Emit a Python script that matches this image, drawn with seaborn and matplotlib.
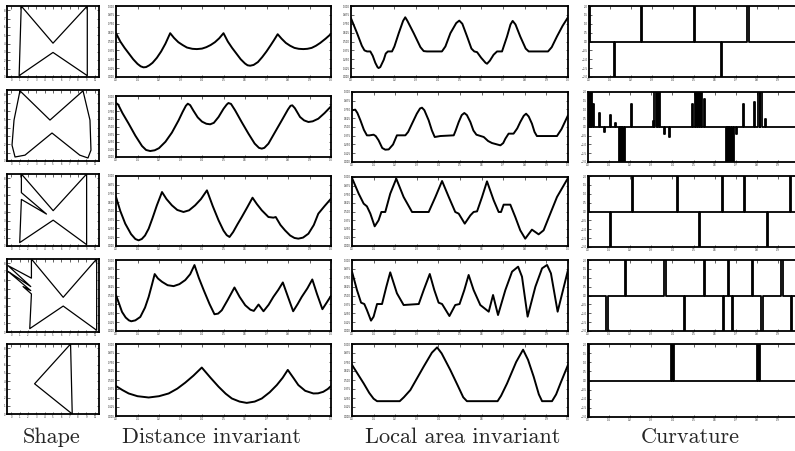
import numpy as np
import matplotlib
matplotlib.use("Agg")
import matplotlib.pyplot as plt
import seaborn as sns

# --- shapes (column 1) ---
shape1_x = [1.2, 5.0, 9.1, 9.1, 5.0, 0.95, 1.2]
shape1_y = [8.5, 4.05, 8.5, 0.16, 2.94, 0.16, 8.5]
shape2_x = [1.05, 4.64, 8.59, 9.42, 9.54, 9.18, 8.2, 4.88, 1.65, 0.46, 0.1, 0.34, 1.05]
shape2_y = [8.4, 4.9, 8.4, 4.9, 1.3, 0.36, 0.7, 3.35, 0.7, 0.48, 1.9, 4.9, 8.4]
shape3_x = [1.22, 1.22, 4.22, 1.22, 1.02, 5.02, 9.02, 9.02, 5.02, 1.22]
shape3_y = [8.5, 6.3, 3.77, 5.5, 0.4, 3.05, 0.16, 8.5, 4.17, 8.5]
shape4_x = [2.42, 2.42, -0.38, 2.34, -0.38, 2.34, 1.42, 2.42, 2.22, 6.22, 10.22, 10.22, 6.22, 2.42]
shape4_y = [8.5, 6.27, 7.73, 5.29, 7.06, 4.82, 5.29, 4.43, 0.39, 3.02, 0.2, 8.5, 4.04, 8.5]
shape5_x = [7.1, 2.8, 7.3, 7.1]
shape5_y = [8.5, 3.67, 0.0, 8.5]

# --- distance invariant (column 2) ---
dist1_x = [0, 0.02, 0.04, 0.06, 0.08, 0.1, 0.115, 0.128, 0.14, 0.155, 0.17, 0.19, 0.21, 0.23, 0.252,
           0.27, 0.29, 0.31, 0.33, 0.355, 0.376, 0.4, 0.42, 0.44, 0.46, 0.48, 0.5,
           0.52, 0.54, 0.56, 0.58, 0.6, 0.612, 0.624, 0.64, 0.66, 0.68, 0.7, 0.72, 0.735, 0.752,
           0.77, 0.79, 0.81, 0.83, 0.85, 0.871, 0.89, 0.91, 0.93, 0.95, 0.975, 1.0]
dist1_y = [0.617, 0.5, 0.41, 0.33, 0.25, 0.185, 0.15, 0.136, 0.14, 0.165, 0.2, 0.27, 0.36, 0.47, 0.617,
           0.55, 0.49, 0.45, 0.415, 0.397, 0.393, 0.4, 0.42, 0.45, 0.49, 0.545, 0.617,
           0.5, 0.41, 0.33, 0.25, 0.19, 0.165, 0.159, 0.17, 0.21, 0.28, 0.36, 0.45, 0.52, 0.603,
           0.54, 0.48, 0.44, 0.41, 0.397, 0.393, 0.397, 0.41, 0.44, 0.48, 0.54, 0.607]
dist2_x = [0, 0.01, 0.03, 0.059, 0.09, 0.121, 0.14, 0.159, 0.18, 0.2, 0.23, 0.26, 0.291, 0.31, 0.325, 0.334,
           0.345, 0.36, 0.38, 0.4, 0.42, 0.438, 0.455, 0.477, 0.5, 0.515, 0.523, 0.535, 0.554, 0.585, 0.616,
           0.645, 0.665, 0.678, 0.69, 0.709, 0.74, 0.771, 0.8, 0.812, 0.82, 0.832, 0.856, 0.875, 0.895, 0.915,
           0.941, 0.97, 1.0]
dist2_y = [0.885, 0.86, 0.72, 0.546, 0.35, 0.18, 0.115, 0.098, 0.11, 0.145, 0.25, 0.4, 0.6, 0.74, 0.84, 0.874,
           0.85, 0.76, 0.65, 0.58, 0.545, 0.536, 0.56, 0.656, 0.79, 0.86, 0.885, 0.87, 0.765, 0.57, 0.383,
           0.22, 0.15, 0.137, 0.15, 0.219, 0.41, 0.6, 0.78, 0.84, 0.847, 0.8, 0.656, 0.6, 0.574, 0.585,
           0.628, 0.72, 0.83]
dist3_x = [0, 0.02, 0.043, 0.07, 0.09, 0.105, 0.12, 0.135, 0.152, 0.17, 0.19, 0.214, 0.235, 0.26, 0.285, 0.314,
           0.34, 0.368, 0.395, 0.423, 0.45, 0.477, 0.5, 0.515, 0.528, 0.545, 0.565, 0.585, 0.61, 0.635, 0.655,
           0.678, 0.709, 0.732, 0.743, 0.765, 0.786, 0.81, 0.83, 0.848, 0.87, 0.895, 0.92, 0.941, 0.97, 1.0]
dist3_y = [0.7, 0.5, 0.319, 0.17, 0.1, 0.081, 0.1, 0.15, 0.248, 0.4, 0.58, 0.771, 0.67, 0.581, 0.515, 0.486,
           0.51, 0.581, 0.67, 0.795, 0.57, 0.367, 0.22, 0.155, 0.129, 0.2, 0.31, 0.414, 0.55, 0.69, 0.6,
           0.51, 0.414, 0.405, 0.414, 0.3, 0.224, 0.15, 0.115, 0.105, 0.12, 0.176, 0.3, 0.462, 0.57, 0.676]
dist4_x = [0, 0.015, 0.028, 0.045, 0.06, 0.071, 0.09, 0.113, 0.135, 0.152, 0.167, 0.18, 0.195, 0.214, 0.24,
           0.268, 0.295, 0.322, 0.345, 0.365, 0.385, 0.408, 0.435, 0.458, 0.475, 0.492, 0.52, 0.551, 0.575,
           0.601, 0.625, 0.641, 0.663, 0.686, 0.71, 0.732, 0.755, 0.776, 0.8, 0.824, 0.845, 0.864, 0.89, 0.913,
           0.935, 0.96, 0.98, 1.0]
dist4_y = [0.505, 0.38, 0.269, 0.19, 0.15, 0.137, 0.15, 0.198, 0.33, 0.481, 0.65, 0.802, 0.74, 0.693, 0.645,
           0.632, 0.66, 0.717, 0.8, 0.929, 0.75, 0.575, 0.38, 0.236, 0.245, 0.292, 0.44, 0.613, 0.48,
           0.363, 0.3, 0.283, 0.373, 0.278, 0.37, 0.481, 0.58, 0.684, 0.48, 0.278, 0.38, 0.481, 0.6, 0.726,
           0.52, 0.307, 0.4, 0.495]
dist5_x = [0, 0.03, 0.059, 0.1, 0.152, 0.2, 0.245, 0.285, 0.322, 0.36, 0.399, 0.44, 0.477, 0.51, 0.539, 0.575,
           0.608, 0.645, 0.678, 0.715, 0.748, 0.775, 0.799, 0.825, 0.848, 0.88, 0.918, 0.94, 0.964, 0.985, 1.0]
dist5_y = [0.416, 0.36, 0.313, 0.275, 0.257, 0.275, 0.313, 0.38, 0.463, 0.56, 0.673, 0.53, 0.407, 0.31, 0.243,
           0.2, 0.182, 0.2, 0.243, 0.33, 0.43, 0.53, 0.64, 0.53, 0.43, 0.35, 0.313, 0.315, 0.336, 0.375, 0.416]

# --- local area invariant (column 3) ---
area1_x = [0, 0.028, 0.05, 0.062, 0.074, 0.089, 0.1, 0.112, 0.122, 0.127, 0.135, 0.151, 0.16, 0.17, 0.189, 0.2,
           0.22, 0.24, 0.25, 0.26, 0.289, 0.32, 0.335, 0.35, 0.419, 0.435, 0.458, 0.485, 0.499, 0.513, 0.535,
           0.555, 0.568, 0.581, 0.6, 0.62, 0.627, 0.64, 0.657, 0.673, 0.696, 0.719, 0.735, 0.745, 0.758, 0.78,
           0.805, 0.819, 0.908, 0.925, 0.949, 0.975, 1.0]
area1_y = [0.827, 0.617, 0.44, 0.375, 0.36, 0.36, 0.3, 0.2, 0.14, 0.126, 0.14, 0.243, 0.33, 0.36, 0.36, 0.43,
           0.617, 0.79, 0.841, 0.79, 0.617, 0.42, 0.365, 0.36, 0.36, 0.43, 0.617, 0.76, 0.794, 0.75, 0.57,
           0.4, 0.36, 0.35, 0.27, 0.2, 0.187, 0.23, 0.313, 0.36, 0.36, 0.57, 0.74, 0.79, 0.74, 0.57,
           0.4, 0.36, 0.36, 0.42, 0.57, 0.72, 0.841]
area2_x = [0, 0.015, 0.025, 0.039, 0.055, 0.069, 0.08, 0.1, 0.11, 0.123, 0.14, 0.154, 0.17, 0.19, 0.208, 0.247,
           0.26, 0.278, 0.3, 0.315, 0.324, 0.335, 0.355, 0.37, 0.383, 0.409, 0.471, 0.48, 0.494, 0.508, 0.52,
           0.532, 0.548, 0.562, 0.576, 0.61, 0.63, 0.648, 0.687, 0.7, 0.71, 0.725, 0.748, 0.765, 0.779, 0.795,
           0.806, 0.818, 0.833, 0.845, 0.856, 0.949, 0.97, 1.0]
area2_y = [0.738, 0.748, 0.7, 0.595, 0.46, 0.381, 0.38, 0.39, 0.37, 0.31, 0.2, 0.176, 0.18, 0.25, 0.381, 0.381,
           0.43, 0.548, 0.69, 0.765, 0.776, 0.74, 0.595, 0.45, 0.357, 0.371, 0.381, 0.45, 0.571, 0.67, 0.7,
           0.67, 0.571, 0.45, 0.39, 0.357, 0.3, 0.271, 0.238, 0.27, 0.333, 0.405, 0.405, 0.48, 0.571, 0.66,
           0.69, 0.65, 0.548, 0.43, 0.371, 0.371, 0.47, 0.667]
area3_x = [0, 0.031, 0.054, 0.069, 0.085, 0.105, 0.123, 0.136, 0.154, 0.177, 0.205, 0.239, 0.278, 0.355, 0.386,
           0.417, 0.448, 0.478, 0.494, 0.522, 0.548, 0.563, 0.579, 0.602, 0.625, 0.656, 0.679, 0.69, 0.702, 0.733,
           0.756, 0.779, 0.802, 0.833, 0.864, 0.887, 0.918, 0.949, 1.0]
area3_y = [0.986, 0.758, 0.614, 0.575, 0.469, 0.285, 0.372, 0.493, 0.493, 0.758, 0.976, 0.71, 0.493, 0.493, 0.71,
           0.942, 0.71, 0.493, 0.469, 0.324, 0.444, 0.493, 0.502, 0.71, 0.937, 0.662, 0.493, 0.493, 0.599, 0.599,
           0.42, 0.227, 0.106, 0.237, 0.169, 0.227, 0.469, 0.71, 0.986]
area4_x = [0, 0.023, 0.042, 0.057, 0.069, 0.088, 0.1, 0.116, 0.139, 0.159, 0.177, 0.208, 0.239, 0.309, 0.332, 0.36,
           0.381, 0.401, 0.417, 0.451, 0.478, 0.498, 0.52, 0.54, 0.563, 0.594, 0.633, 0.653, 0.676, 0.71, 0.741,
           0.769, 0.787, 0.813, 0.849, 0.88, 0.903, 0.921, 0.952, 0.977, 1.0]
area4_y = [0.836, 0.577, 0.399, 0.38, 0.296, 0.146, 0.202, 0.38, 0.38, 0.624, 0.826, 0.531, 0.366, 0.38, 0.577,
           0.803, 0.577, 0.399, 0.38, 0.211, 0.366, 0.38, 0.577, 0.789, 0.577, 0.366, 0.272, 0.507, 0.225, 0.577,
           0.836, 0.906, 0.765, 0.202, 0.624, 0.883, 0.93, 0.812, 0.272, 0.577, 0.859]
area5_x = [0, 0.054, 0.08, 0.1, 0.116, 0.221, 0.24, 0.27, 0.332, 0.37, 0.394, 0.415, 0.455, 0.49, 0.515, 0.532,
           0.674, 0.69, 0.718, 0.76, 0.792, 0.815, 0.841, 0.865, 0.88, 0.926, 0.945, 0.965, 1.0]
area5_y = [0.71, 0.453, 0.32, 0.24, 0.206, 0.206, 0.26, 0.36, 0.687, 0.88, 0.953, 0.87, 0.64, 0.42, 0.26, 0.206,
           0.206, 0.28, 0.453, 0.75, 0.921, 0.78, 0.547, 0.3, 0.206, 0.206, 0.3, 0.453, 0.71]

# --- curvature (column 4): spike positions and heights ---
curv1_pos = [0.0, 0.122, 0.249, 0.503, 0.63, 0.757]
curv1_val = [2.5, -2.5, 2.5, 2.5, -2.5, 2.5]
curv2_pos = [0.0, 0.01, 0.016, 0.025, 0.053, 0.078, 0.105, 0.132, 0.148, 0.156, 0.165, 0.173, 0.206, 0.31,
             0.318, 0.328, 0.34, 0.362, 0.385, 0.496, 0.51, 0.518, 0.528, 0.538, 0.552, 0.656, 0.664, 0.672,
             0.68, 0.69, 0.705, 0.736, 0.79, 0.81, 0.82, 0.84]
curv2_val = [2.5, 2.5, 2.5, 1.3, 0.82, -0.3, 0.7, 0.24, -2.5, -2.5, -2.5, -2.5, 1.34, 0.32,
             2.5, 2.5, 2.5, -0.42, -0.56, 1.34, 2.5, 2.5, 2.5, 2.5, 1.6, -2.5, -2.5, -2.5,
             -2.5, -2.5, -0.42, 1.34, 1.44, 2.5, 2.5, 0.44]
curv3_pos = [0.0, 0.106, 0.21, 0.424, 0.53, 0.638, 0.741, 0.852, 0.959]
curv3_val = [2.5, -2.5, 2.5, 2.5, -2.5, 2.5, 2.5, -2.5, 2.5]
curv4_pos = [0.09, 0.178, 0.365, 0.459, 0.551, 0.643, 0.665, 0.686, 0.781, 0.825, 0.919, 0.963]
curv4_val = [-2.5, 2.5, 2.5, -2.5, 2.5, -2.5, 2.5, -2.5, 2.5, -2.5, 2.5, -2.5]
curv5_pos = [0.0, 0.001, 0.397, 0.405, 0.805, 0.812]
curv5_val = [2.5, -2.5, 2.5, 2.5, 2.5, 2.5]

col_titles = ["Shape", "Distance invariant", "Local area invariant", "Curvature"]

shapes = [(shape1_x, shape1_y), (shape2_x, shape2_y), (shape3_x, shape3_y), (shape4_x, shape4_y), (shape5_x, shape5_y)]
dists = [(dist1_x, dist1_y), (dist2_x, dist2_y), (dist3_x, dist3_y), (dist4_x, dist4_y), (dist5_x, dist5_y)]
areas = [(area1_x, area1_y), (area2_x, area2_y), (area3_x, area3_y), (area4_x, area4_y), (area5_x, area5_y)]
curvs = [(curv1_pos, curv1_val), (curv2_pos, curv2_val), (curv3_pos, curv3_val), (curv4_pos, curv4_val),
         (curv5_pos, curv5_val)]

# axes boxes in pixels: (left, top, right, bottom)
boxes = [
    [(7, 6, 99, 77), (116, 6, 331, 77), (351, 6, 568, 77), (589, 6, 799, 77)],
    [(7, 90, 99, 161), (116, 96, 331, 157), (352, 92, 568, 162), (588, 92, 799, 162)],
    [(7, 174, 99, 246), (116, 176, 331, 246), (352, 177, 568, 246), (588, 176, 799, 247)],
    [(7, 259, 99, 332), (116, 260, 331, 331), (352, 260, 568, 331), (588, 260, 799, 331)],
    [(7, 344, 99, 414), (116, 344, 331, 416), (352, 344, 568, 416), (588, 344, 799, 417)],
]

sns.set_style("white")
plt.rcParams.update({
    "axes.linewidth": 1.3, "axes.edgecolor": "black",
    "xtick.direction": "in", "ytick.direction": "in",
    "xtick.top": True, "ytick.right": True,
    "xtick.bottom": True, "ytick.left": True,
    "xtick.major.size": 1.8, "ytick.major.size": 1.8,
    "xtick.major.width": 0.5, "ytick.major.width": 0.5,
    "xtick.major.pad": 1, "ytick.major.pad": 1,
    "xtick.labelsize": 1.8, "ytick.labelsize": 1.8,
})

W, H = 795, 451
fig = plt.figure(figsize=(7.95, 4.51), dpi=100)


def make_ax(box):
    l, t, r, b = box
    return fig.add_axes([l / W, 1 - b / H, (r - l) / W, (b - t) / H])


for i in range(5):
    # shape
    ax = make_ax(boxes[i][0])
    sx, sy = shapes[i]
    sns.lineplot(x=sx, y=sy, ax=ax, sort=False, estimator=None, color="black", lw=0.9)
    ax.set_xlim(-0.5, 10.5)
    ax.set_ylim(0, 8.5)
    ax.set_xticks(range(0, 11))
    ax.set_yticks(range(0, 9))

    # distance invariant
    ax = make_ax(boxes[i][1])
    dx, dy = dists[i]
    sns.lineplot(x=dx, y=dy, ax=ax, sort=False, estimator=None, color="black", lw=1.4)
    ax.set_xlim(0, 1)
    ax.set_ylim(0, 1)
    ax.set_xticks(np.arange(0, 1.01, 0.1))
    ax.set_yticks(np.arange(0, 1.01, 0.125))

    # local area invariant
    ax = make_ax(boxes[i][2])
    ax_x, ax_y = areas[i]
    sns.lineplot(x=ax_x, y=ax_y, ax=ax, sort=False, estimator=None, color="black", lw=1.4)
    ax.set_xlim(0, 1)
    ax.set_ylim(0, 1)
    ax.set_xticks(np.arange(0, 1.01, 0.1))
    ax.set_yticks(np.arange(0, 1.01, 0.125))

    # curvature: flat line with spikes
    ax = make_ax(boxes[i][3])
    pos, val = curvs[i]
    cx, cy = [0.0], [0.0]
    w = 0.003
    for p, v in zip(pos, val):
        cx += [p - w, p - w, p + w, p + w]
        cy += [0.0, v, v, 0.0]
    cx.append(1.0)
    cy.append(0.0)
    sns.lineplot(x=cx, y=cy, ax=ax, sort=False, estimator=None, color="black", lw=1.3)
    ax.set_xlim(0, 1)
    ax.set_ylim(-2, 2)
    ax.set_xticks(np.arange(0, 0.91, 0.1))
    ax.set_yticks(np.arange(-2, 2.01, 0.5))

for ax in fig.axes:
    ax.set_xlabel("")
    ax.set_ylabel("")
    for s in ax.spines.values():
        s.set_visible(True)

title_x = [52, 212, 463, 690]
for tx, title in zip(title_x, col_titles):
    fig.text(tx / W, 1 - 437 / H, title, ha="center", va="center", fontsize=16, family="cmr10")

fig.savefig("out.png", dpi=100)
